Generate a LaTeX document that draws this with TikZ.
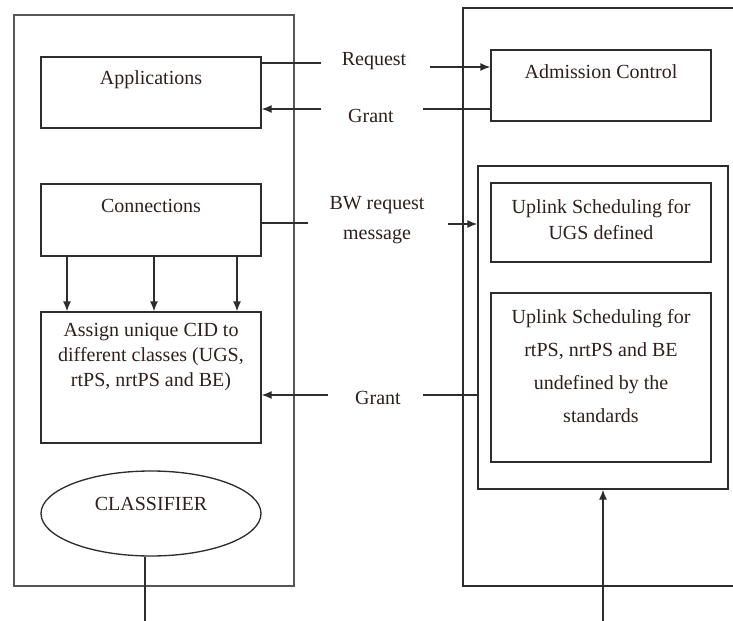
\documentclass[tikz,border=0pt]{standalone}
\usepackage{fontspec}
\setmainfont{Liberation Serif}
\usetikzlibrary{shapes.geometric,arrows.meta}
\definecolor{ink}{RGB}{45,32,30}
\definecolor{ln}{RGB}{45,45,45}
\begin{document}
\begin{tikzpicture}[x=0.75pt,y=-0.75pt,
  box/.style={draw=ln,line width=1pt,inner sep=0pt},
  txt/.style={text=ink,font=\fontsize{15}{18.75}\selectfont,align=center,inner sep=0pt},
  arr/.style={draw=ln,line width=1pt,-{Latex[length=7.5pt,width=6pt]}},
  con/.style={draw=ln,line width=1pt}]
\useasboundingbox (0,0) rectangle (733,621);

% outer frames
\node[box,draw=ln!80,minimum width=210pt,minimum height=428.25pt] (left) at (154,300.5) {};
\node[box,minimum width=207.75pt,minimum height=433.5pt] (right) at (601.5,297) {};

% left side boxes
\node[box,minimum width=165pt,minimum height=53.25pt] (app) at (151,92.5) {};
\node[txt] (appt) at (151,80) {Applications};
\node[box,minimum width=165pt,minimum height=54pt] (conn) at (151,220) {};
\node[txt] (connt) at (151,206) {Connections};
\node[box,minimum width=165pt,minimum height=98.25pt] (assign) at (151,377.5) {};
\node[txt,font=\fontsize{15}{18.75}\selectfont] (assignt) at (151,357) {Assign unique CID to\\different classes (UGS,\\rtPS, nrtPS and BE)};
\node[box,ellipse,minimum width=165pt,minimum height=63.75pt] (cls) at (151,513.5) {};
\node[txt] (clst) at (151,504) {CLASSIFIER};

% right side boxes
\node[box,minimum width=165pt,minimum height=53.25pt] (adm) at (601,85.5) {};
\node[txt] (admt) at (601,72) {Admission Control};
\node[box,minimum width=187.5pt,minimum height=242.25pt] (sched) at (603,327.5) {};
\node[box,minimum width=165pt,minimum height=59.25pt] (ugs) at (601,222.5) {};
\node[txt,font=\fontsize{15}{19.5}\selectfont] (ugst) at (601,220) {Uplink Scheduling for\\UGS defined};
\node[box,minimum width=165pt,minimum height=126.75pt] (std) at (601,377.5) {};
\node[txt,font=\fontsize{15}{24.75}\selectfont] (stdt) at (601,366) {Uplink Scheduling for\\rtPS, nrtPS and BE\\undefined by the\\standards};

% middle labels
\node[txt] (req) at (374,61) {Request};
\node[txt] (gr1) at (371,116) {Grant};
\node[txt,font=\fontsize{15}{22.5}\selectfont] (bw) at (377,220) {BW request\\message};
\node[txt] (gr2) at (378,398) {Grant};

% free ends
\coordinate (r1) at (321,63);
\coordinate (r2) at (430,67);
\coordinate (g1) at (423,109);
\coordinate (g2) at (321,109);
\coordinate (b1) at (308,223);
\coordinate (b2) at (448,224);
\coordinate (h1) at (423,395);
\coordinate (h2) at (328,395);
\coordinate (c1) at (145,621);
\coordinate (s1) at (603,621);

% connectors
\draw[con] (app.east |- r1) -- (r1);
\draw[arr] (r2) -- (adm.west |- r2);
\draw[con] (adm.west |- g1) -- (g1);
\draw[arr] (g2) -- (app.east |- g2);
\draw[con] (conn.east |- b1) -- (b1);
\draw[arr] (b2) -- (sched.west |- b2);
\draw[con] (sched.west |- h1) -- (h1);
\draw[arr] (h2) -- (assign.east |- h2);
\foreach \xx in {67,154,237}
  \draw[arr] (conn.south -| \xx,0) -- (assign.north -| \xx,0);
\draw[con] (cls.south -| c1) -- (c1);
\draw[arr] (s1) -- (sched.south);
\end{tikzpicture}
\end{document}
